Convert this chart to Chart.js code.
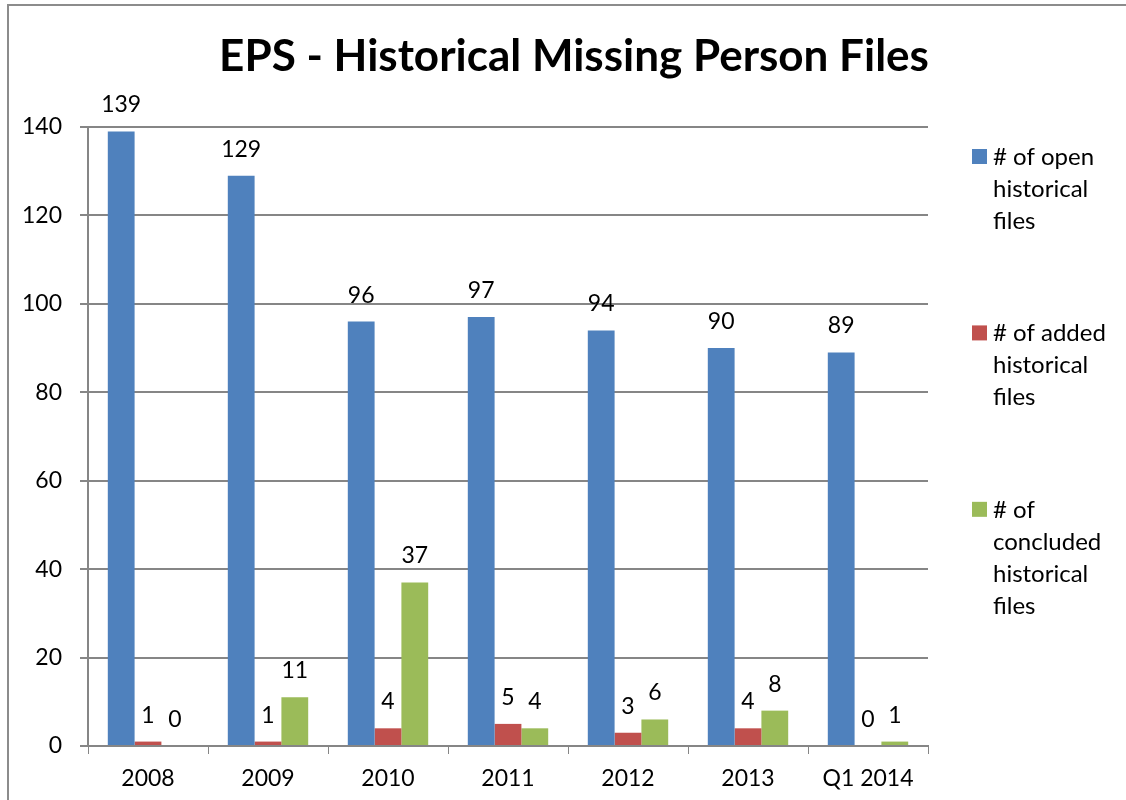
<!DOCTYPE html>
<html>
<head>
<meta charset="utf-8">
<script src="https://cdn.jsdelivr.net/npm/chart.js@4.4.1/dist/chart.umd.min.js"></script>
<style>
  html, body { margin: 0; padding: 0; background: #fff; overflow: hidden; }
  #frame {
    position: absolute; left: 7px; top: 4px; width: 1200px; height: 900px;
    border: 2px solid #8c8c8c; box-sizing: border-box;
  }
  #wrap { position: absolute; left: 0; top: 0; width: 1126px; height: 800px; }
</style>
</head>
<body>
<div id="frame"></div>
<div id="wrap"><canvas id="chart" width="1126" height="800"></canvas></div>
<script>
const chartTitle = "EPS - Historical Missing Person Files";
const categories = ["2008", "2009", "2010", "2011", "2012", "2013", "Q1 2014"];
const openFiles = [139, 129, 96, 97, 94, 90, 89];
const addedFiles = [1, 1, 4, 5, 3, 4, 0];
const concludedFiles = [0, 11, 37, 4, 6, 8, 1];
const seriesLabels = [
  ["# of open", "historical", "files"],
  ["# of added", "historical", "files"],
  ["# of", "concluded", "historical", "files"]
];
const yTicks = [0, 20, 40, 60, 80, 100, 120, 140];

const FONT = "Lato, 'Liberation Sans', sans-serif";
const colors = ["#4F81BD", "#C0504D", "#9BBB59"];

// title centred over the whole frame, like the original
const titlePlugin = {
  id: "titlePlugin",
  afterDraw(chart) {
    const ctx = chart.ctx;
    ctx.save();
    ctx.font = "bold 44px " + FONT;
    ctx.fillStyle = "#000";
    ctx.textAlign = "center";
    ctx.textBaseline = "alphabetic";
    ctx.fillText(chartTitle, 574, 71);
    ctx.restore();
  }
};

const valueLabels = {
  id: "valueLabels",
  afterDatasetsDraw(chart) {
    const ctx = chart.ctx;
    ctx.save();
    ctx.font = "23px " + FONT;
    ctx.fillStyle = "#000";
    ctx.textAlign = "center";
    ctx.textBaseline = "alphabetic";
    chart.data.datasets.forEach((ds, i) => {
      chart.getDatasetMeta(i).data.forEach((bar, j) => {
        ctx.fillText(String(ds.data[j]), bar.x, bar.y - 19);
      });
    });
    ctx.restore();
  }
};

const sideLegend = {
  id: "sideLegend",
  afterDraw(chart) {
    const ctx = chart.ctx;
    const area = chart.chartArea;
    const h = area.bottom - area.top;
    ctx.save();
    ctx.font = "24px " + FONT;
    ctx.textBaseline = "middle";
    ctx.textAlign = "left";
    seriesLabels.forEach((lines, i) => {
      const y0 = area.top + 30 + i * h * 0.285;
      ctx.fillStyle = colors[i];
      ctx.fillRect(area.right + 44, y0 - 8, 15, 15);
      ctx.fillStyle = "#000";
      lines.forEach((t, k) => {
        ctx.fillText(t, area.right + 65, y0 + k * 32);
      });
    });
    ctx.restore();
  }
};

new Chart(document.getElementById("chart"), {
  type: "bar",
  data: {
    labels: categories,
    datasets: [
      { label: seriesLabels[0].join(" "), data: openFiles, backgroundColor: colors[0] },
      { label: seriesLabels[1].join(" "), data: addedFiles, backgroundColor: colors[1] },
      { label: seriesLabels[2].join(" "), data: concludedFiles, backgroundColor: colors[2] }
    ]
  },
  options: {
    responsive: false,
    animation: false,
    datasets: { bar: { categoryPercentage: 0.67, barPercentage: 1 } },
    layout: { padding: { left: 10, right: 198, top: 127, bottom: 0 } },
    plugins: {
      legend: { display: false },
      tooltip: { enabled: false },
      title: { display: false }
    },
    scales: {
      x: {
        afterFit(axis) { axis.height = 54; },
        grid: { offset: true, drawOnChartArea: false, drawTicks: true, tickLength: 8, color: "#868686" },
        border: { color: "#868686", width: 2 },
        ticks: { color: "#000", font: { family: FONT, size: 23 }, padding: 11 }
      },
      y: {
        min: 0, max: 140,
        afterBuildTicks(axis) { axis.ticks = yTicks.map(v => ({ value: v })); },
        afterFit(axis) { axis.width = 78; },
        grid: { color: "#868686", lineWidth: 2, tickLength: 8 },
        border: { color: "#868686", width: 2 },
        ticks: { color: "#000", font: { family: FONT, size: 23 }, padding: 18 }
      }
    }
  },
  plugins: [titlePlugin, valueLabels, sideLegend]
});
</script>
</body>
</html>
